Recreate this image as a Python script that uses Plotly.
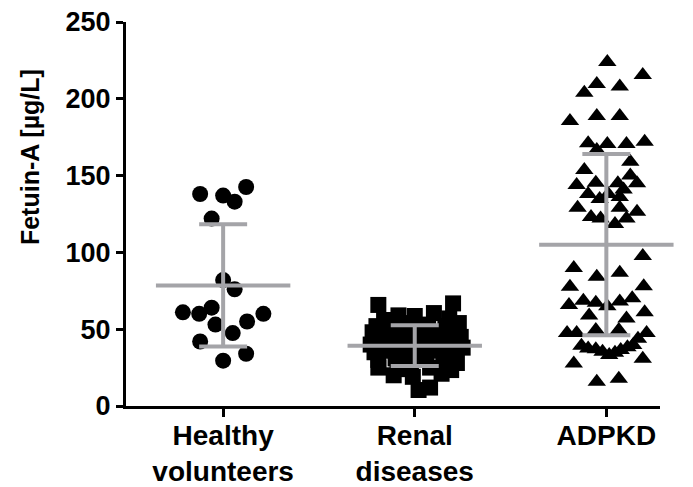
import plotly.graph_objects as go

# ---- data ----
categories = ["Healthy<br>volunteers", "Renal<br>diseases", "ADPKD"]
y_tick_values = [0, 50, 100, 150, 200, 250]

healthy_values = [138, 137, 142.6, 133, 122, 82, 76, 61, 60, 64, 55, 60, 53, 47.5, 42, 29.5, 34]
healthy_jitter = [-0.12, 0.0, 0.12, 0.06, -0.06, 0.0, 0.06, -0.21, -0.125, -0.06, 0.125, 0.21, -0.04, 0.05, -0.12, 0.0, 0.12]

renal_values = [65.8, 66.8,
                59, 58.6, 60.5,
                56, 57,
                52, 53, 54, 53, 52, 54,
                48, 47, 49, 48, 47, 48,
                44, 43, 44, 43, 45,
                40, 39, 41, 40, 39, 41, 38,
                35, 36, 34, 35, 36, 34,
                30, 31, 29, 30, 31, 28,
                25, 24, 25, 23.4,
                20, 19, 21,
                10.4, 12]
renal_jitter = [-0.19, 0.2,
                -0.085, 0.0, 0.1,
                -0.16, 0.18,
                -0.2, -0.11, -0.02, 0.07, 0.16, 0.23,
                -0.22, -0.14, -0.05, 0.03, 0.11, 0.2,
                -0.18, -0.09, 0.07, 0.17, 0.24,
                -0.23, -0.15, -0.06, 0.02, 0.1, 0.19, 0.25,
                -0.21, -0.13, -0.04, 0.04, 0.13, 0.21,
                -0.19, -0.1, -0.02, 0.06, 0.15, 0.22,
                -0.19, -0.09, 0.08, 0.19,
                -0.11, -0.01, 0.14,
                0.02, 0.08]

adpkd_values = [224, 215.5, 209.6, 204, 208,
                185.5, 188.8, 188.8,
                171, 170.6, 170.6, 172, 166.7,
                159, 153.6, 150,
                143.9, 145.4, 145, 145,
                138, 138, 141,
                134.8, 136, 129, 129, 126.5,
                123, 122, 118.5, 122,
                97.7, 89.8, 84.2, 86.8, 77.7, 78,
                65.8, 68.5, 67.3, 65, 68, 70.2,
                59, 57, 61,
                47.5, 47.6, 49.5, 49.5, 47.5, 43.8,
                39.3, 37.5, 36.9, 35.4, 33.2, 34.7, 36.5, 38.3, 39.7,
                27.6, 30.7, 15.8, 17.7]
adpkd_jitter = [0.005, 0.19, -0.05, -0.115, 0.07,
                -0.19, -0.05, 0.07,
                -0.095, 0.005, 0.105, 0.2, -0.05,
                0.125, -0.115, 0.125,
                -0.155, -0.055, 0.06, 0.16,
                -0.095, 0.01, 0.09,
                -0.035, 0.07, -0.15, 0.07, 0.16,
                -0.08, -0.03, 0.045, 0.105,
                0.19, -0.17, -0.05, 0.07, -0.19, 0.195,
                -0.195, -0.12, -0.055, 0.005, 0.07, 0.135,
                -0.09, 0.105, 0.2,
                -0.205, -0.155, -0.055, 0.065, 0.21, 0.165,
                -0.13, -0.095, -0.055, -0.02, 0.015, 0.045, 0.075, 0.11, 0.14,
                -0.17, 0.19, -0.05, 0.065]

group_means = [78.5, 39.3, 105]
group_sds = [39.8, 13.2, 59]

# ---- figure ----
FONT = "Liberation Sans, Arial, Helvetica, sans-serif"
GREY = "#a4a4a8"

fig = go.Figure()

groups = [
    (0, healthy_values, healthy_jitter, "circle", 16),
    (1, renal_values, renal_jitter, "square", 16),
    (2, adpkd_values, adpkd_jitter, "triangle-up", 16),
]
for idx, vals, jit, sym, size in groups:
    fig.add_trace(go.Scatter(
        x=[idx + j for j in jit],
        y=vals,
        mode="markers",
        marker=dict(symbol=sym, size=size, color="black", line=dict(width=0)),
        showlegend=False,
        cliponaxis=False,
    ))

fig.add_trace(go.Scatter(
    x=[0, 1, 2],
    y=group_means,
    mode="markers",
    marker=dict(symbol="line-ew", size=96, line=dict(width=4, color=GREY)),
    error_y=dict(type="data", array=group_sds, visible=True, color=GREY, thickness=4, width=24),
    showlegend=False,
    cliponaxis=False,
))

fig.add_annotation(
    text="Fetuin-A [µg/L]",
    textangle=-90,
    xref="paper", yref="y",
    x=-0.18, y=162,
    xanchor="center", yanchor="middle",
    showarrow=False,
    font=dict(family=FONT, size=25, color="black", weight="bold"),
)

# the page body adds an 8px offset, so the figure is sized 8px smaller
fig.update_layout(
    width=685, height=479,
    margin=dict(l=118, r=33, t=14, b=81),
    plot_bgcolor="white",
    paper_bgcolor="white",
    xaxis=dict(
        range=[-0.507, 2.28],
        tickvals=[0, 1, 2],
        ticktext=categories,
        ticks="outside", ticklen=8, tickwidth=3, tickcolor="black",
        showline=True, linewidth=3, linecolor="black",
        showgrid=False, zeroline=False, automargin=False,
        ticklabeloverflow="allow",
        ticklabelstandoff=-6,
        tickfont=dict(family=FONT, size=28, color="black", weight="bold"),
    ),
    yaxis=dict(
        range=[0, 250],
        tickvals=y_tick_values,
        ticks="outside", ticklen=7, tickwidth=3, tickcolor="black",
        showline=True, linewidth=3, linecolor="black",
        showgrid=False, zeroline=False, automargin=False,
        ticklabeloverflow="allow",
        tickfont=dict(family=FONT, size=27, color="black", weight="bold"),
    ),
)

fig.write_html("out.html")
